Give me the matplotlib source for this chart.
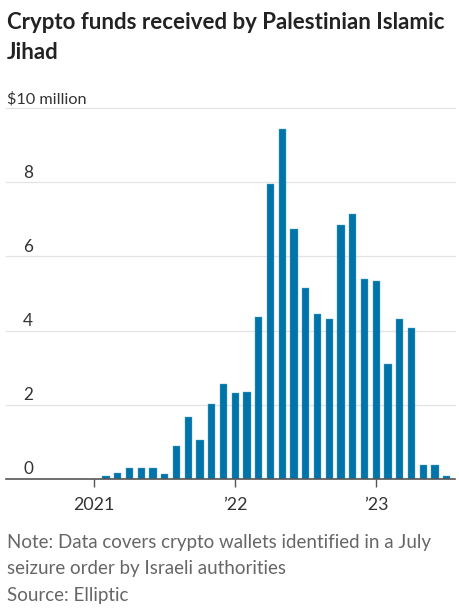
import matplotlib
matplotlib.use("Agg")
import matplotlib.pyplot as plt
import matplotlib.transforms as mtransforms
import pandas as pd

months = pd.period_range("2021-02", "2023-07", freq="M").astype(str).tolist()
values = [0.08, 0.17, 0.29, 0.29, 0.29, 0.14, 0.90, 1.68, 1.05, 2.03, 2.56,
          2.32, 2.35, 4.38, 7.95, 9.43, 6.73, 5.16, 4.46, 4.30, 6.85, 7.14, 5.38,
          5.34, 3.10, 4.32, 4.08, 0.37, 0.37, 0.08]
ytick_vals = [0, 2, 4, 6, 8, 10]
ytick_labels = ["0", "2", "4", "6", "8", "$10 million"]
xtick_months = ["2021-01", "2022-01", "2023-01"]
xtick_labels = ["2021", "\u201922", "\u201923"]

title_lines = ["Crypto funds received by Palestinian Islamic", "Jihad"]
note_lines = ["Note: Data covers crypto wallets identified in a July",
              "seizure order by Israeli authorities", "Source: Elliptic"]

FONT = "Lato"
W, H = 459, 613
fig = plt.figure(figsize=(W / 100, H / 100), dpi=100)
ax = fig.add_axes([6 / W, 1 - 479 / H, 449 / W, (479 - 108) / H])

base = pd.Period("2021-01", freq="M")
def mi(m):
    return (pd.Period(m, freq="M") - base).n

x = [mi(m) for m in months]
ax.bar(x, values, width=0.62, color="#0074a8", edgecolor="#5aa9d0",
       linewidth=0.3, zorder=3)

ax.set_xlim(-7.5, 30.7)
ax.set_ylim(0, 10)
for s in ax.spines.values():
    s.set_visible(False)
ax.set_yticks([])

for v in ytick_vals[1:]:
    ax.axhline(v, color="#e3e3e3", lw=0.9, zorder=1, clip_on=False)
ax.axhline(0, color="#555555", lw=1.2, zorder=4, clip_on=False)

offset = mtransforms.ScaledTranslation(0, 4.5 / 100, fig.dpi_scale_trans)
tr = mtransforms.blended_transform_factory(ax.transAxes, ax.transData) + offset
for v, lab in zip(ytick_vals, ytick_labels):
    if v == 10:
        ax.text(1 / 449, v, lab, transform=tr, ha="left", va="baseline",
                fontsize=11.7, color="#333333", family=FONT)
    else:
        ax.text(27 / 449, v, lab, transform=tr, ha="right", va="baseline",
                fontsize=12.3, color="#333333", family=FONT)

ax.set_xticks([mi(m) for m in xtick_months])
ax.set_xticklabels(xtick_labels, family=FONT, fontsize=12.8, color="#333333")
ax.tick_params(axis="x", length=6, width=1.0, color="#555555", pad=7)

for line, yb in zip(title_lines, [29, 59]):
    fig.text(7 / W, 1 - yb / H, line, ha="left", va="baseline", fontsize=16,
             fontweight="bold", color="#222222", family=FONT)

for line, yb in zip(note_lines, [548, 574, 601]):
    fig.text(7 / W, 1 - yb / H, line, ha="left", va="baseline", fontsize=13.5,
             color="#666666", family=FONT)

fig.savefig("out.png", dpi=100)
